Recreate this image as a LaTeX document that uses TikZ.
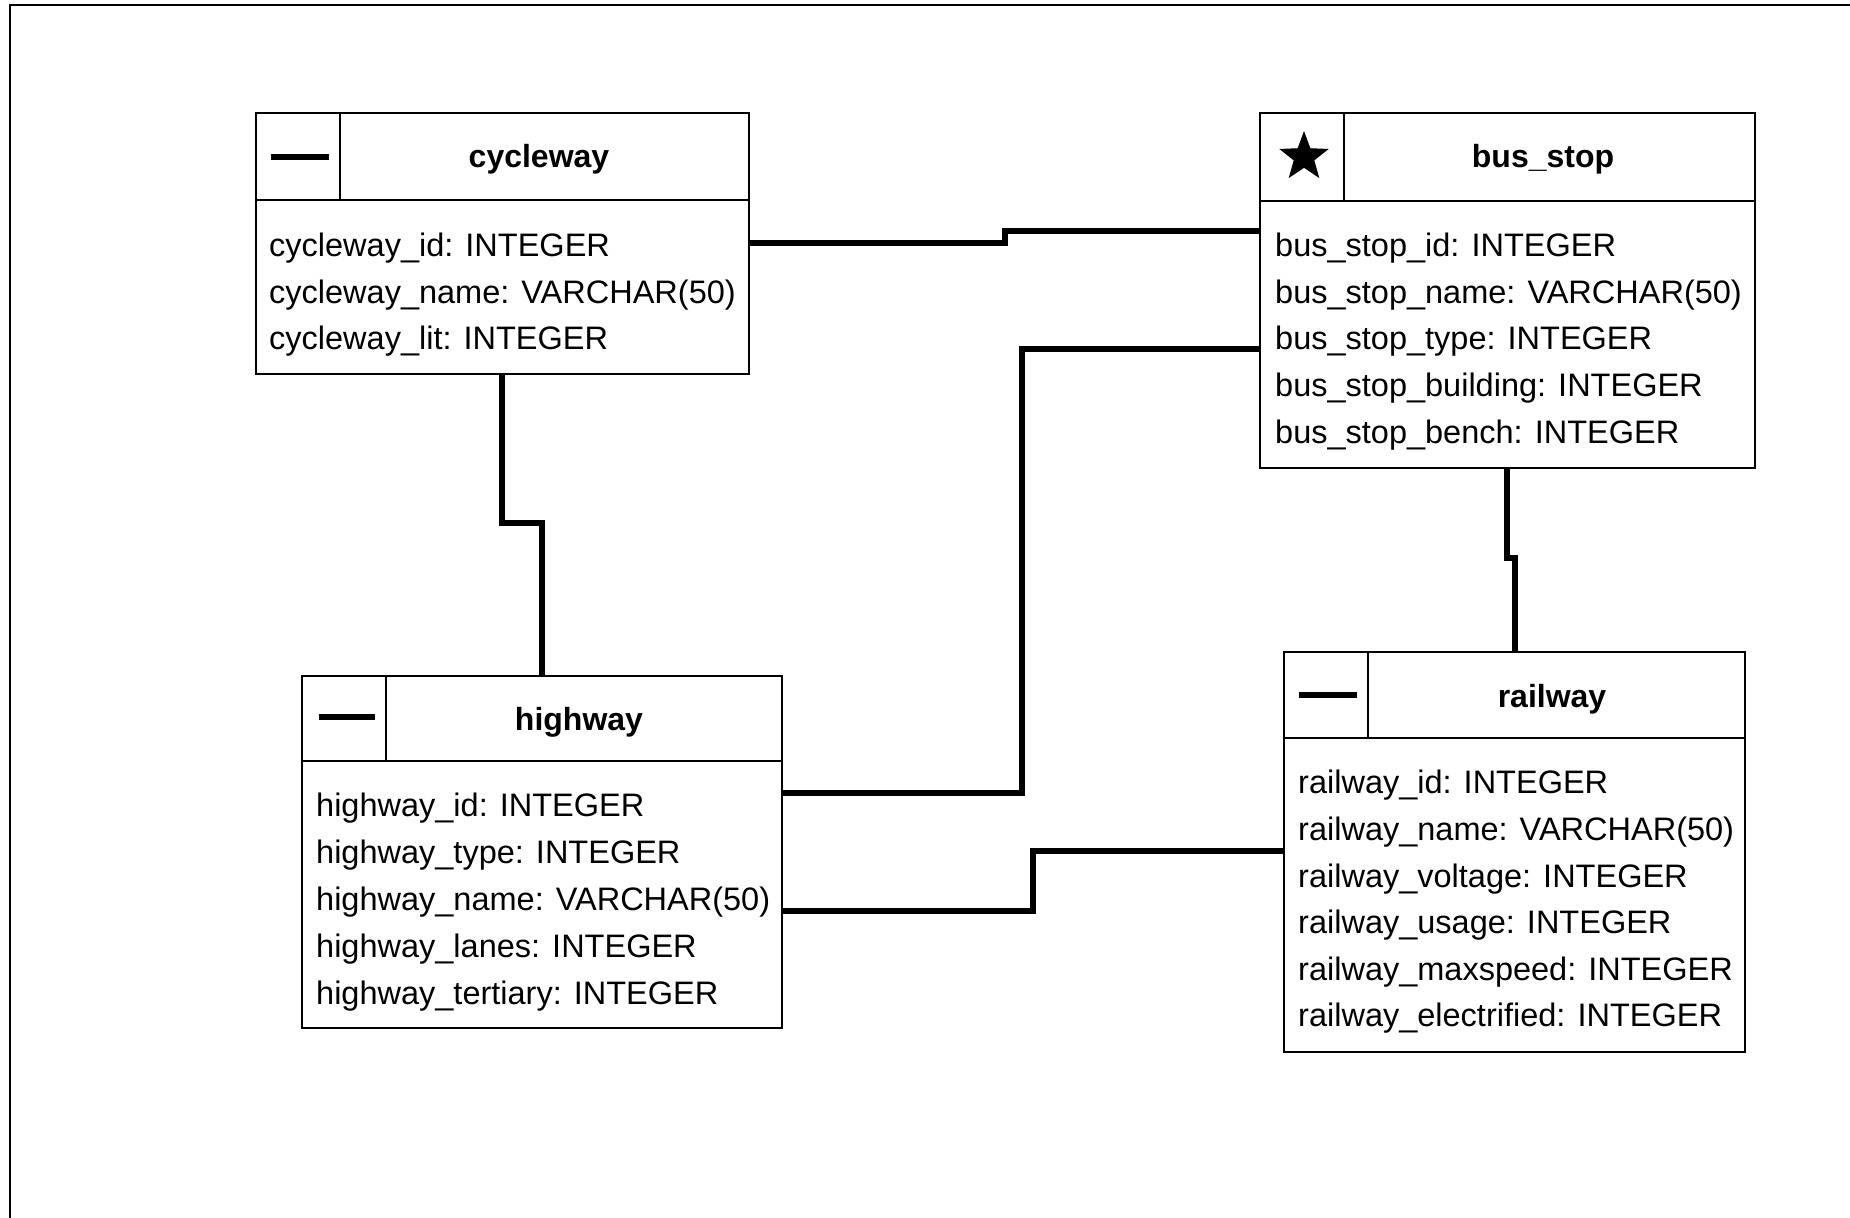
\documentclass[tikz,border=0pt]{standalone}
\usepackage{fontspec}
\setmainfont{Liberation Sans}
\usetikzlibrary{shapes.geometric}
\tikzset{
  tbl/.style={draw, line width=1.5pt, inner sep=0pt, outer sep=0pt},
  sep/.style={line width=1.5pt},
  conn/.style={line width=6pt},
  row/.style={anchor=base west, inner sep=0pt, font=\fontsize{32.5}{38}\selectfont},
  ttl/.style={anchor=base, inner sep=0pt, font=\fontsize{32}{38}\selectfont\bfseries},
  dashicon/.style={line width=6.5pt},
  frame/.style={line width=2pt}
}
\begin{document}
\begin{tikzpicture}[x=1pt,y=-1pt]
\useasboundingbox (0,0) rectangle (1850,1218);
\draw[frame] (10,1220) -- (10,5) -- (1852,5);

% cycleway
\node[tbl, minimum width=493pt, minimum height=261pt] (cyc) at (502.5,243.5) {};
\draw[sep] (256,200) -- (749,200);
\draw[sep] (340,113) -- (340,200);
\draw[dashicon] (271,157) -- (329,157);
\node[ttl] (cyct) at (539,167) {cycleway};
\node[row] (cyc1) at (269,256) {cycleway\_id: INTEGER};
\node[row] (cyc2) at (269,303) {cycleway\_name: VARCHAR(50)};
\node[row] (cyc3) at (269,349) {cycleway\_lit: INTEGER};

% bus_stop
\node[tbl, minimum width=495pt, minimum height=355pt] (bus) at (1507.5,290.5) {};
\draw[sep] (1260,201) -- (1755,201);
\draw[sep] (1344,113) -- (1344,201);
\node[star, star points=5, star point ratio=2.4, fill=black, inner sep=0pt, minimum size=52pt] (busicon) at (1304,157) {};
\node[ttl] (bust) at (1543,167) {bus\_stop};
\node[row] (bus1) at (1275,256) {bus\_stop\_id: INTEGER};
\node[row] (bus2) at (1275,303) {bus\_stop\_name: VARCHAR(50)};
\node[row] (bus3) at (1275,349) {bus\_stop\_type: INTEGER};
\node[row] (bus4) at (1275,396) {bus\_stop\_building: INTEGER};
\node[row] (bus5) at (1275,443) {bus\_stop\_bench: INTEGER};

% highway
\node[tbl, minimum width=480pt, minimum height=352pt] (hwy) at (542,852) {};
\draw[sep] (302,761) -- (782,761);
\draw[sep] (386,676) -- (386,761);
\draw[dashicon] (319,717) -- (375,717);
\node[ttl] (hwyt) at (579,730) {highway};
\node[row] (hwy1) at (316,816) {highway\_id: INTEGER};
\node[row] (hwy2) at (316,863) {highway\_type: INTEGER};
\node[row] (hwy3) at (316,910) {highway\_name: VARCHAR(50)};
\node[row] (hwy4) at (316,957) {highway\_lanes: INTEGER};
\node[row] (hwy5) at (316,1004) {highway\_tertiary: INTEGER};

% railway
\node[tbl, minimum width=461pt, minimum height=400pt] (rail) at (1514.5,852) {};
\draw[sep] (1284,738) -- (1745,738);
\draw[sep] (1368,652) -- (1368,738);
\draw[dashicon] (1299,695) -- (1357,695);
\node[ttl] (railt) at (1552,707) {railway};
\node[row] (rail1) at (1298,793) {railway\_id: INTEGER};
\node[row] (rail2) at (1298,840) {railway\_name: VARCHAR(50)};
\node[row] (rail3) at (1298,887) {railway\_voltage: INTEGER};
\node[row] (rail4) at (1298,933) {railway\_usage: INTEGER};
\node[row] (rail5) at (1298,980) {railway\_maxspeed: INTEGER};
\node[row] (rail6) at (1298,1026) {railway\_electrified: INTEGER};

% connectors
\draw[conn] (cyc.east |- 0,243) -- (1005,243) -- (1005,231) -- (bus.west |- 0,231);
\draw[conn] (hwy.east |- 0,793) -- (1022,793) -- (1022,349) -- (bus.west |- 0,349);
\draw[conn] (hwy.east |- 0,911) -- (1033,911) -- (1033,851) -- (rail.west |- 0,851);
\draw[conn] (cyc.south -| 502,0) -- (502,523) -- (542,523) -- (hwy.north -| 542,0);
\draw[conn] (bus.south -| 1507,0) -- (1507,558) -- (1515,558) -- (rail.north -| 1515,0);
\end{tikzpicture}
\end{document}
